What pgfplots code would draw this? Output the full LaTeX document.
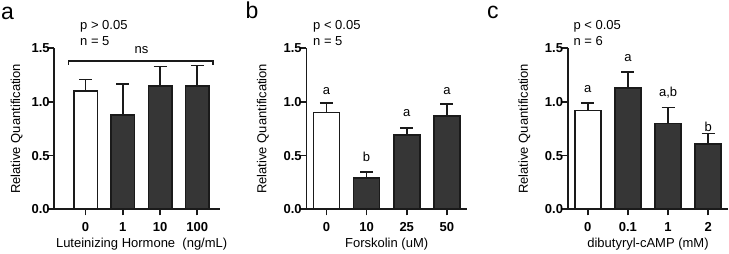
\documentclass[border=0pt]{standalone}
\usepackage{pgfplots}
\pgfplotsset{compat=1.18}
\usepackage{fontspec}
\setmainfont{Liberation Sans}
\definecolor{barfill}{HTML}{363636}
\definecolor{ink}{HTML}{1A1A1A}
\pgfplotsset{
  panel/.style={
    scale only axis, height=161pt, ymin=0, ymax=1.5,
    axis lines=left, axis line style={-, line width=1.6pt, ink},
    tick align=outside, major tick length=6pt,
    every tick/.style={line width=1.6pt, ink},
    ytick={0,0.5,1,1.5},
    yticklabels={\textbf{0.0},\textbf{0.5},\textbf{1.0},\textbf{1.5}},
    xtick={0,1,2,3},
    /pgf/number format/assume math mode=true,
    tick label style={font=\fontsize{13}{15}\selectfont, inner sep=0pt},
    yticklabel style={xshift=1.5pt},
    xticklabel style={yshift=-7.0pt},
    label style={font=\fontsize{13}{15}\selectfont},
    xlabel style={at={(axis description cs:0.5,0)}, anchor=base, yshift=-38.4pt, inner sep=0pt},
    ylabel={Relative Quantification},
    clip=false,
    ybar, bar shift=0pt,
    error bars/y dir=plus, error bars/y explicit,
    error bars/error bar style={line width=1.6pt, ink},
    error bars/error mark options={line width=1.6pt, ink, mark size=6.5pt, rotate=90},
  },
  wbar/.style={fill=white, draw=ink, line width=1.6pt},
  dbar/.style={fill=barfill, draw=ink, line width=1.6pt},
}
\begin{document}
\begin{tikzpicture}[x=1pt,y=1pt]
\path[use as bounding box] (0,0) rectangle (729,254);
% panel a
\begin{axis}[panel, at={(54.3pt,44.7pt)}, anchor=south west, width=165.7pt,
  xmin=-0.84, xmax=3.61, bar width=23.5pt,
  xticklabels={\textbf{0},\textbf{1},\textbf{10},\textbf{100}},
  xlabel={Luteinizing Hormone\ \ (ng/mL)}, xlabel style={xshift=4.5pt},
  ylabel style={at={(axis description cs:0,0.5)}, anchor=center, yshift=37.6pt}]
\addplot[wbar] coordinates {(0,1.10) +- (0,0.11)};
\addplot[dbar] coordinates {(1,0.88) +- (0,0.29) (2,1.15) +- (0,0.18) (3,1.15) +- (0,0.19)};
\draw[line width=1.6pt, ink] (axis cs:-0.46,1.345) -- (axis cs:-0.46,1.38) -- (axis cs:3.43,1.38) -- (axis cs:3.43,1.345);
\node[anchor=base, font=\fontsize{13}{15}\selectfont] at (axis cs:1.5,1.447) {ns};
\end{axis}
% panel b
\begin{axis}[panel, at={(306.3pt,44.7pt)}, anchor=south west, width=160.7pt,
  xmin=-0.5, xmax=3.5, bar width=26pt,
  xticklabels={\textbf{0},\textbf{10},\textbf{25},\textbf{50}},
  xlabel={Forskolin (uM)},
  ylabel style={at={(axis description cs:0,0.5)}, anchor=center, yshift=43.3pt}]
\addplot[wbar] coordinates {(0,0.90) +- (0,0.09)};
\addplot[dbar] coordinates {(1,0.29) +- (0,0.055) (2,0.69) +- (0,0.07) (3,0.87) +- (0,0.11)};
\node[anchor=base, font=\fontsize{13}{15}\selectfont] at (axis cs:0,1.072) {a};
\node[anchor=base, font=\fontsize{13}{15}\selectfont] at (axis cs:1,0.444) {b};
\node[anchor=base, font=\fontsize{13}{15}\selectfont] at (axis cs:2,0.863) {a};
\node[anchor=base, font=\fontsize{13}{15}\selectfont] at (axis cs:3,1.072) {a};
\end{axis}
% panel c
\begin{axis}[panel, at={(567.7pt,44.7pt)}, anchor=south west, width=160.6pt,
  xmin=-0.5, xmax=3.5, bar width=26pt,
  xticklabels={\textbf{0},\textbf{0.1},\textbf{1},\textbf{2}},
  xlabel={dibutyryl-cAMP (mM)},
  ylabel style={at={(axis description cs:0,0.5)}, anchor=center, yshift=43.4pt}]
\addplot[wbar] coordinates {(0,0.92) +- (0,0.07)};
\addplot[dbar] coordinates {(1,1.13) +- (0,0.15) (2,0.80) +- (0,0.15) (3,0.61) +- (0,0.095)};
\node[anchor=base, font=\fontsize{13}{15}\selectfont] at (axis cs:0,1.087) {a};
\node[anchor=base, font=\fontsize{13}{15}\selectfont] at (axis cs:1,1.373) {a};
\node[anchor=base, font=\fontsize{13}{15}\selectfont] at (axis cs:2,1.05) {a,b};
\node[anchor=base, font=\fontsize{13}{15}\selectfont] at (axis cs:3,0.723) {b};
\end{axis}
% annotations
\foreach \px/\txt in {80/{p > 0.05}, 313/{p < 0.05}, 573.3/{p < 0.05}} {
  \node[anchor=base west, inner sep=0pt, font=\fontsize{13}{15}\selectfont] at (\px,224.7) {\txt};
}
\foreach \px/\txt in {80/{n = 5}, 313/{n = 5}, 573.3/{n = 6}} {
  \node[anchor=base west, inner sep=0pt, font=\fontsize{13}{15}\selectfont] at (\px,208.3) {\txt};
}
\node[anchor=base west, inner sep=0pt, font=\fontsize{23}{26}\selectfont] at (1,234.7) {a};
\node[anchor=base west, inner sep=0pt, font=\fontsize{23}{26}\selectfont] at (245.5,235) {b};
\node[anchor=base west, inner sep=0pt, font=\fontsize{23}{26}\selectfont] at (487,235) {c};
\end{tikzpicture}
\end{document}
